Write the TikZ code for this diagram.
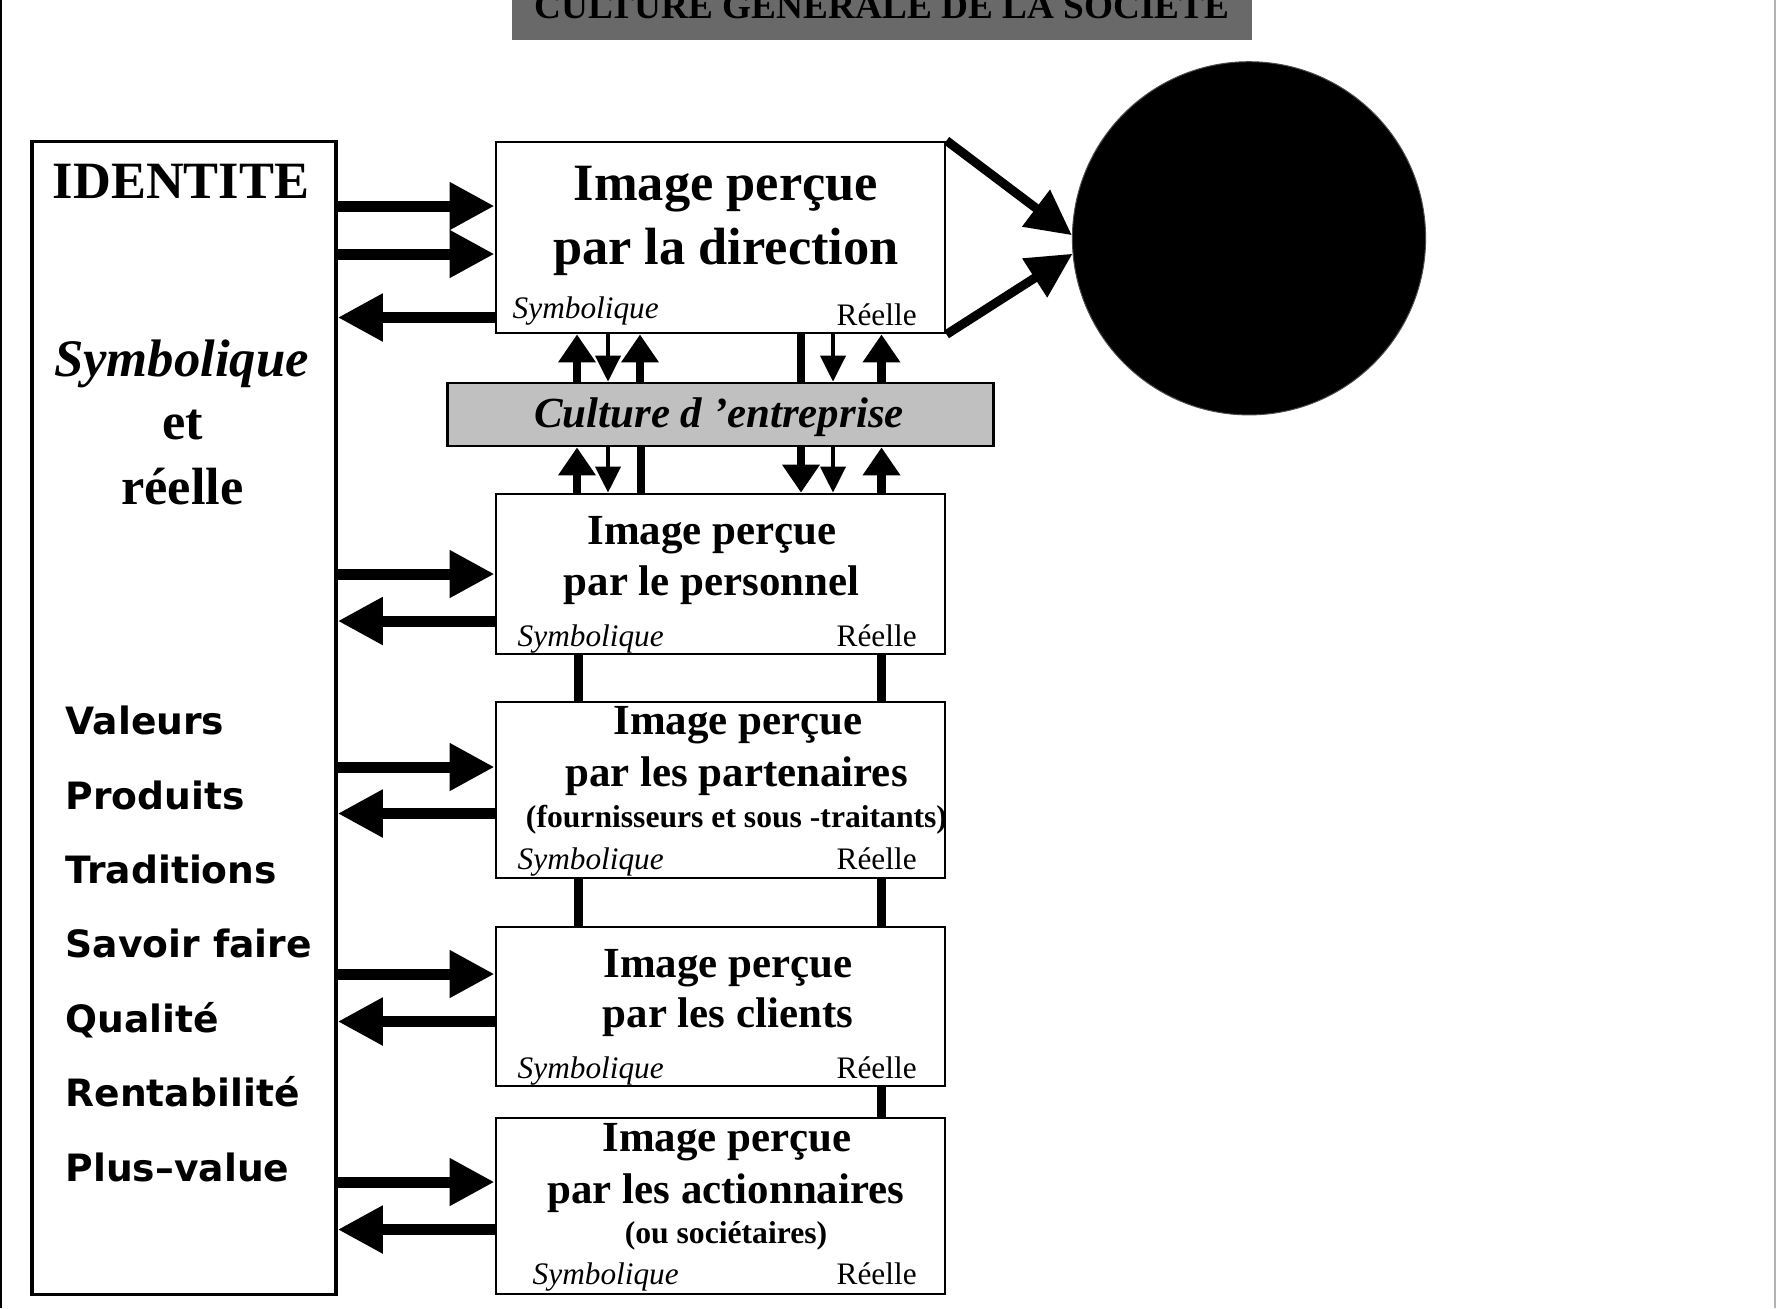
\documentclass[tikz,border=0pt]{standalone}
\usepackage{fontspec}
\setmainfont{Liberation Serif}
\newfontfamily\dejavu{DejaVu Sans}
\usetikzlibrary{arrows.meta}
\definecolor{titlegray}{HTML}{696969}
\definecolor{cultgray}{HTML}{C0C0C0}
\begin{document}
\begin{tikzpicture}[x=0.01cm, y=-0.01cm,
  box/.style={draw, line width=0.027cm, rectangle, inner sep=0pt, fill=white},
  txt/.style={inner sep=0pt, anchor=base},
  txtl/.style={inner sep=0pt, anchor=base west},
  big/.style={font=\fontsize{14.9}{18}\selectfont\bfseries},
  bigit/.style={font=\fontsize{15}{18}\selectfont\bfseries\itshape},
  med/.style={font=\fontsize{12.2}{14}\selectfont\bfseries},
  medit/.style={font=\fontsize{12.2}{14}\selectfont\bfseries\itshape},
  sm/.style={font=\fontsize{9}{11}\selectfont\bfseries},
  lab/.style={font=\fontsize{8.9}{10}\selectfont},
  labit/.style={font=\fontsize{8.9}{10}\selectfont\itshape},
  lst/.style={font=\dejavu\fontsize{10.7}{13}\selectfont\bfseries},
  harrow/.style={line width=0.11cm, -{Triangle[length=0.45cm,width=0.45cm]}},
  varrow/.style={line width=0.085cm, -{Triangle[length=0.28cm,width=0.36cm]}},
  vthin/.style={line width=0.04cm, -{Triangle[length=0.26cm,width=0.25cm]}},
  vbar/.style={line width=0.085cm},
  link/.style={line width=0.09cm},
  carrow/.style={line width=0.09cm, -{Triangle[length=0.45cm,width=0.44cm]}}
]
\useasboundingbox (0,0) rectangle (1776,1308);
\clip (0,0) rectangle (1776,1308);
\fill[white] (0,0) rectangle (1776,1308);
% page borders
\draw[line width=0.02cm] (1,0) -- (1,1308);
\draw[gray!60, line width=0.015cm] (1775,0) -- (1775,1308);

% title
\node[fill=titlegray, minimum width=7.40cm, minimum height=0.6cm, inner sep=0pt] (title) at (882,10) {};
\node[txt, font=\fontsize{10.6}{12}\selectfont\bfseries] (titletext) at (882,18) {CULTURE GENERALE DE LA SOCIETE};

% boxes
\node[box, line width=0.033cm, minimum width=3.04cm, minimum height=11.52cm] (ident) at (184,718) {};
\node[box, minimum width=4.49cm, minimum height=1.91cm] (dir) at (720.5,237.5) {};
\node[box, fill=cultgray, minimum width=5.45cm, minimum height=0.63cm] (cult) at (720.5,414.5) {};
\node[box, minimum width=4.49cm, minimum height=1.60cm] (pers) at (720.5,574) {};
\node[box, minimum width=4.49cm, minimum height=1.76cm] (part) at (720.5,790) {};
\node[box, minimum width=4.49cm, minimum height=1.59cm] (cli) at (720.5,1006.5) {};
\node[box, minimum width=4.49cm, minimum height=1.76cm] (act) at (720.5,1206) {};
\node[circle, fill=black, draw=black!70, line width=0.01cm, minimum size=3.53cm, inner sep=0pt] (circ) at (1249,238.3) {};

% identity texts
\node[txt, big] (id1) at (181,198) {IDENTITE};
\node[txt, bigit] (id2) at (181.5,376) {Symbolique};
\node[txt, big] (id3) at (183,439) {et};
\node[txt, big] (id4) at (182.5,504) {réelle};
\node[txtl, lst] (l1) at (65,734) {Valeurs};
\node[txtl, lst] (l2) at (65,809) {Produits};
\node[txtl, lst] (l3) at (65,883) {Traditions};
\node[txtl, lst] (l4) at (65,957.5) {Savoir faire};
\node[txtl, lst] (l5) at (65,1032) {Qualité};
\node[txtl, lst] (l6) at (65,1106.5) {Rentabilité};
\node[txtl, lst] (l7) at (65,1181) {Plus–value};

% direction
\node[txt, big] (d1) at (726,200) {Image perçue};
\node[txt, big] (d2) at (726,264) {par la direction};
\node[txtl, labit] (d3) at (512,318) {Symbolique};
\node[txtl, lab] (d4) at (836,325.5) {Réelle};

% culture
\node[txt, medit] (c1) at (719,427) {Culture d ’entreprise};

% personnel
\node[txt, med] (p1) at (712,544) {Image perçue};
\node[txt, med] (p2) at (711.5,595) {par le personnel};
\node[txtl, labit] (p3) at (517,646) {Symbolique};
\node[txtl, lab] (p4) at (836,646) {Réelle};

% partenaires
\node[txt, med] (q1) at (738,734) {Image perçue};
\node[txt, med] (q2) at (736.5,786) {par les partenaires};
\node[txt, sm] (q3) at (736.5,827) {(fournisseurs et sous -traitants)};
\node[txtl, labit] (q4) at (517,869) {Symbolique};
\node[txtl, lab] (q5) at (836,869) {Réelle};

% clients
\node[txt, med] (r1) at (728,977) {Image perçue};
\node[txt, med] (r2) at (728,1027) {par les clients};
\node[txtl, labit] (r3) at (517,1078) {Symbolique};
\node[txtl, lab] (r4) at (836,1078) {Réelle};

% actionnaires
\node[txt, med] (s1) at (727,1151) {Image perçue};
\node[txt, med] (s2) at (726,1203) {par les actionnaires};
\node[txt, sm] (s3) at (726,1243.5) {(ou sociétaires)};
\node[txtl, labit] (s4) at (532,1284) {Symbolique};
\node[txtl, lab] (s5) at (836,1284) {Réelle};

% horizontal arrows
\draw[harrow] (ident.east |- 0,206) -- (dir.west |- 0,206);
\draw[harrow] (ident.east |- 0,254) -- (dir.west |- 0,254);
\draw[harrow] (dir.west |- 0,317.5) -- (ident.east |- 0,317.5);
\draw[harrow] (ident.east |- 0,574) -- (pers.west |- 0,574);
\draw[harrow] (pers.west |- 0,621) -- (ident.east |- 0,621);
\draw[harrow] (ident.east |- 0,767) -- (part.west |- 0,767);
\draw[harrow] (part.west |- 0,813.5) -- (ident.east |- 0,813.5);
\draw[harrow] (ident.east |- 0,974) -- (cli.west |- 0,974);
\draw[harrow] (cli.west |- 0,1021.5) -- (ident.east |- 0,1021.5);
\draw[harrow] (ident.east |- 0,1182) -- (act.west |- 0,1182);
\draw[harrow] (act.west |- 0,1229.5) -- (ident.east |- 0,1229.5);

% arrows to circle
\draw[carrow] (dir.north east) -- (circ.179);
\draw[carrow] (dir.south east) -- (circ.185);

% direction <-> culture
\draw[varrow] (cult.north -| 577,0) -- (dir.south -| 577,0);
\draw[vthin] (dir.south -| 608,0) -- (cult.north -| 608,0);
\draw[varrow] (cult.north -| 640,0) -- (dir.south -| 640,0);
\draw[vbar] (dir.south -| 801,0) -- (cult.north -| 801,0);
\draw[vthin] (dir.south -| 833,0) -- (cult.north -| 833,0);
\draw[varrow] (cult.north -| 881.5,0) -- (dir.south -| 881.5,0);

% culture <-> personnel
\draw[varrow] (pers.north -| 577,0) -- (cult.south -| 577,0);
\draw[vthin] (cult.south -| 608,0) -- (pers.north -| 608,0);
\draw[vbar] (cult.south -| 641,0) -- (pers.north -| 641,0);
\draw[varrow] (cult.south -| 801,0) -- (pers.north -| 801,0);
\draw[vthin] (cult.south -| 833,0) -- (pers.north -| 833,0);
\draw[varrow] (pers.north -| 881.5,0) -- (cult.south -| 881.5,0);

% links between lower boxes
\draw[link] (pers.south -| 578,0) -- (part.north -| 578,0);
\draw[link] (pers.south -| 881.5,0) -- (part.north -| 881.5,0);
\draw[link] (part.south -| 578,0) -- (cli.north -| 578,0);
\draw[link] (part.south -| 881.5,0) -- (cli.north -| 881.5,0);
\draw[link] (cli.south -| 881.5,0) -- (act.north -| 881.5,0);
\end{tikzpicture}
\end{document}
